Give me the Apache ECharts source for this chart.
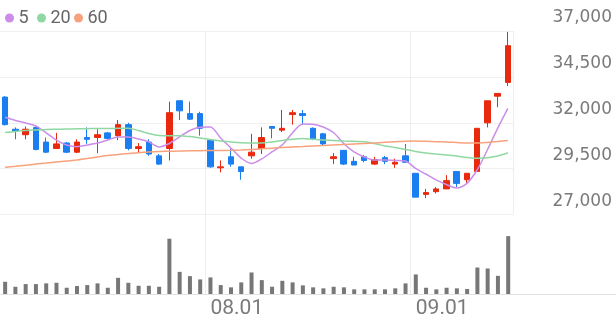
<!DOCTYPE html>
<html>
<head>
<meta charset="utf-8">
<script src="https://cdn.jsdelivr.net/npm/echarts@6/dist/echarts.min.js"></script>
<style>
html,body{margin:0;padding:0;background:#fff;}
#chart{width:616px;height:321px;}
</style>
</head>
<body>
<div id="chart"></div>
<script>
// Trading dates (MM.DD)
const dates = ['07.04','07.07','07.08','07.09','07.10','07.11','07.14','07.15','07.16','07.17',
  '07.18','07.21','07.22','07.23','07.24','07.25','07.28','07.29','07.30','07.31',
  '08.01','08.04','08.05','08.06','08.07','08.08','08.11','08.12','08.13','08.14',
  '08.18','08.19','08.20','08.21','08.22','08.25','08.26','08.27','08.28','08.29',
  '09.01','09.02','09.03','09.04','09.05','09.08','09.09','09.10','09.11','09.12'];
// [open, close, low, high]
const ohlc = [
  [33400,31900,31850,33450],[31650,31550,31100,31750],[31350,31650,31100,31800],[31750,30550,30500,31800],
  [30950,30400,30350,31200],[30600,30850,30600,31450],[30900,30400,30350,30950],[30400,30950,30350,31100],
  [31200,31100,30850,31750],[31200,31350,30350,31650],[31450,31150,31100,31500],[31300,31900,31050,32150],
  [31900,30600,30500,32000],[30600,30700,30350,30900],[30950,30300,30200,31100],[30200,29750,29700,30300],
  [30600,32550,29950,33150],[33200,32650,32150,33200],[32500,32200,32150,33150],[32500,31700,31300,32600],
  [31050,29600,29550,31050],[29550,29600,29300,29950],[30150,29750,29600,30600],[29600,29350,28900,29600],
  [30200,30400,30050,31400],[30600,31200,30300,31750],[31800,31700,31150,31800],[31600,31700,31500,32700],
  [32450,32550,31900,32700],[32500,32400,31900,32700],[31700,31100,31050,31750],[31400,30850,30750,31450],
  [30050,30150,29750,30350],[30500,29750,29700,30500],[29900,29700,29700,30150],[30150,29950,29850,30250],
  [29750,30000,29700,30150],[30100,29900,29750,30200],[29750,29850,29550,30050],[30200,29850,29850,30850],
  [29250,27950,27950,29250],[28100,28200,27900,28400],[28250,28400,28150,28500],[28400,28850,28400,29150],
  [29350,28700,28500,29350],[28900,29250,28700,29250],[29350,31700,29350,31700],[32000,33200,31750,33200],
  [33450,33600,32850,33600],[34200,36200,34000,36950]
];
const ma5 = [32300,32130,31990,31830,31450,31060,30790,30700,30790,30900,
  31060,31230,31230,31120,30960,30680,30870,31230,31580,31760,
  31770,31170,30630,30080,29780,30030,30410,30790,31450,31940,
  31920,31770,31470,30870,30410,30140,29970,29970,29950,29920,
  29520,29210,28890,28640,28450,28700,29430,30520,31700,32790];
const ma20 = [31470,31530,31580,31610,31640,31650,31660,31670,31680,31690,
  31690,31700,31700,31580,31420,31310,31300,31300,31250,31170,
  31090,31010,30960,30920,30900,30900,30960,31040,31100,31150,
  31100,31060,31040,31010,30990,30970,30870,30740,30660,30550,
  30440,30360,30300,30250,30190,30110,30070,30090,30190,30370];
const ma60 = [29580,29630,29690,29750,29810,29870,29920,29970,30060,30140,
  30220,30270,30330,30370,30410,30440,30450,30460,30480,30480,
  30490,30490,30500,30520,30550,30580,30620,30650,30680,30710,
  30740,30760,30790,30820,30850,30870,30900,30940,30970,31000,
  31010,30990,30970,30960,30930,30900,30900,30930,30980,31040];
const volume = [123000,73000,100000,100000,107000,113000,63000,80000,90000,107000,
  63000,163000,113000,83000,83000,73000,557000,223000,180000,147000,
  167000,90000,67000,117000,217000,140000,73000,133000,117000,87000,
  67000,57000,73000,67000,47000,47000,47000,47000,57000,107000,
  197000,63000,47000,63000,57000,50000,267000,257000,183000,583000];
const priceTicks = [27000, 29500, 32000, 34500, 37000];

const UP = '#e8290e', DOWN = '#1b7ef0';
const C5 = '#cb8de9', C20 = '#8fd8a2', C60 = '#f7a27d';
const volCats = dates.concat(Array(10).fill(''));
const isMonthStart = (i, v) => typeof v === 'string' && v.endsWith('.01');

const chart = echarts.init(document.getElementById('chart'), null, {renderer: 'canvas'});
const legendBase = {top: 4, itemWidth: 10, itemHeight: 9, icon: 'circle', itemGap: 4,
  textStyle: {color: '#666', fontSize: 18, fontFamily: 'Roboto', padding: [0,0,0,-1]}};
chart.setOption({
  animation: false,
  backgroundColor: '#fff',
  legend: [
    Object.assign({}, legendBase, {left: 0, data: ['5']}),
    Object.assign({}, legendBase, {left: 32, data: ['20']}),
    Object.assign({}, legendBase, {left: 69, data: ['60']})
  ],
  grid: [
    {left: 0, top: 31, width: 513, height: 183.6},
    {left: 0, right: 0, top: 214.6, height: 79.4}
  ],
  xAxis: [
    {type: 'category', gridIndex: 0, data: dates, boundaryGap: true,
     axisLine: {show: false}, axisTick: {show: false}, axisLabel: {show: false},
     splitLine: {show: true, interval: isMonthStart, lineStyle: {color: '#eeeeee', width: 1}}},
    {type: 'category', gridIndex: 1, data: volCats, boundaryGap: true,
     axisLine: {show: true, lineStyle: {color: '#e2e2e2', width: 1}}, axisTick: {show: false},
     axisLabel: {show: true, interval: isMonthStart, align: 'left', margin: 4,
       color: '#7a7a7a', fontSize: 21, fontFamily: 'Roboto'},
     splitLine: {show: true, interval: isMonthStart, lineStyle: {color: '#eeeeee', width: 1}}}
  ],
  yAxis: [
    {type: 'value', gridIndex: 0, position: 'right', min: priceTicks[0], max: priceTicks[priceTicks.length-1], interval: 2500,
     axisLine: {show: false}, axisTick: {show: false},
     axisLabel: {show: true, align: 'right', margin: 99, verticalAlign: 'bottom', padding: [0,0,5,0],
       color: '#7a7a7a', fontSize: 17, fontFamily: 'DejaVu Sans',
       formatter: v => v.toLocaleString('en-US')},
     splitLine: {show: true, lineStyle: {color: '#f0f0f0', width: 1}}},
    {type: 'value', gridIndex: 1, min: 0, max: 800000, show: false, splitLine: {show: false}}
  ],
  series: [
    {name: 'candle', type: 'candlestick', xAxisIndex: 0, yAxisIndex: 0, data: ohlc, barWidth: 6,
     itemStyle: {color: UP, color0: DOWN, borderColor: UP, borderColor0: DOWN, borderWidth: 1}},
    {name: '5', type: 'line', xAxisIndex: 0, yAxisIndex: 0, data: ma5, symbol: 'none', smooth: 0.3,
     lineStyle: {color: C5, width: 1.5}, itemStyle: {color: C5}},
    {name: '20', type: 'line', xAxisIndex: 0, yAxisIndex: 0, data: ma20, symbol: 'none', smooth: 0.3,
     lineStyle: {color: C20, width: 1.5}, itemStyle: {color: C20}},
    {name: '60', type: 'line', xAxisIndex: 0, yAxisIndex: 0, data: ma60, symbol: 'none', smooth: 0.3,
     lineStyle: {color: C60, width: 1.5}, itemStyle: {color: C60}},
    {name: 'volume', type: 'bar', xAxisIndex: 1, yAxisIndex: 1, data: volume, barWidth: 4,
     itemStyle: {color: '#777777'}}
  ]
});
</script>
</body>
</html>
